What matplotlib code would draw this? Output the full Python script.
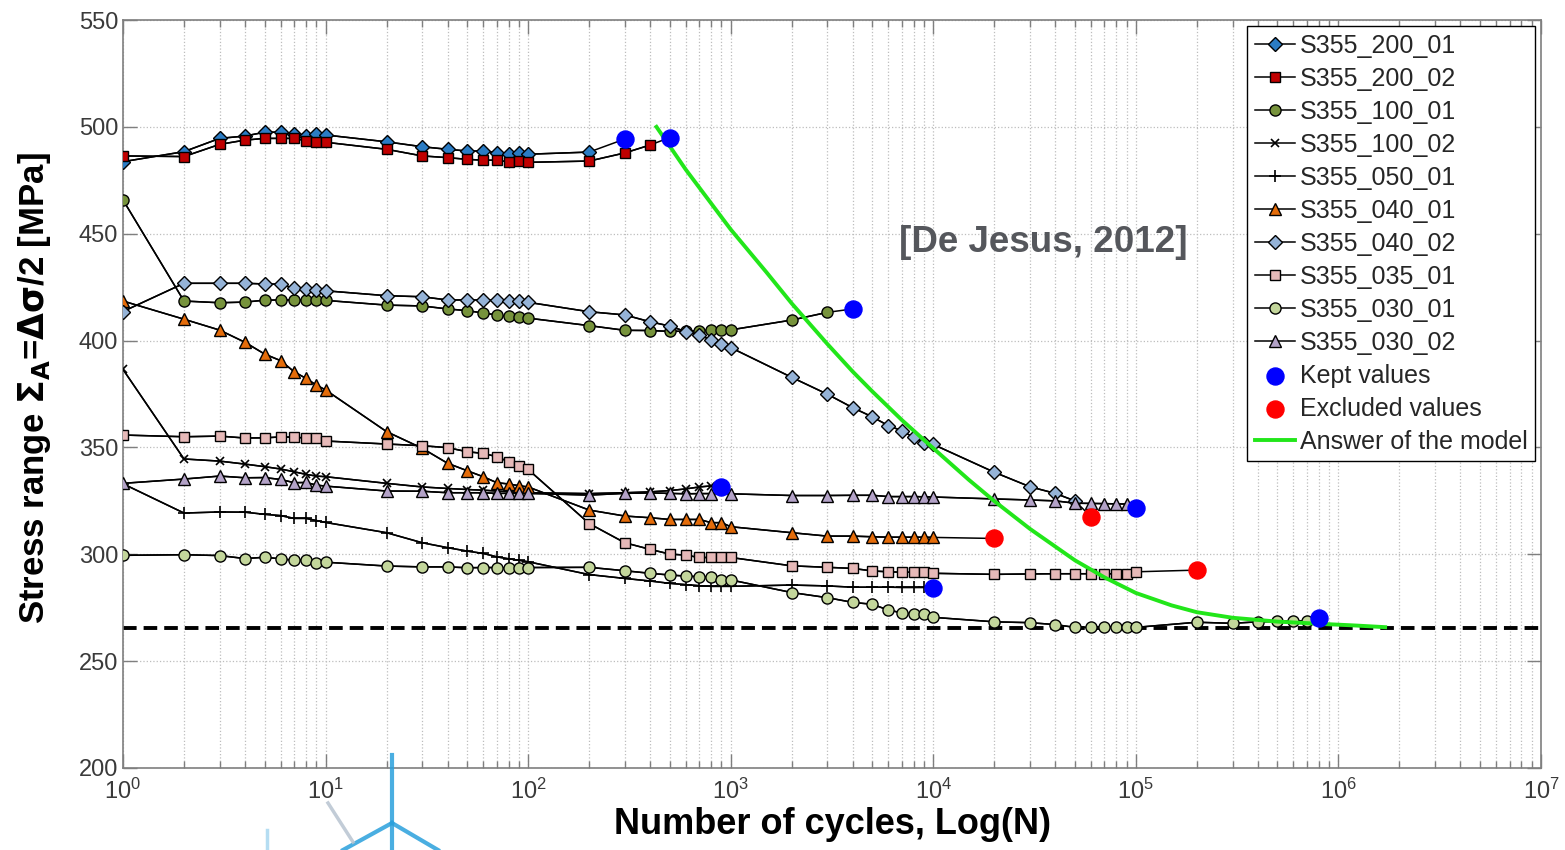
import math
import matplotlib
matplotlib.use('Agg')
import matplotlib.pyplot as plt
from matplotlib.lines import Line2D
from matplotlib.ticker import FixedLocator, LogLocator, NullFormatter, FuncFormatter

plt.rcParams['font.family'] = ['Liberation Sans', 'DejaVu Sans']

# cycles used by most tests in the first decades
n_first = [1, 2, 3, 4, 5, 6, 7, 8, 9, 10, 20, 30, 40, 50, 60, 70, 80, 90, 100]
n_mid = [200, 300, 400, 500, 600, 700, 800, 900, 1000]
n_high = [2000, 3000, 4000, 5000, 6000, 7000, 8000, 9000, 10000]

# S355_200_01
n_200_01 = n_first + [200]
y_200_01 = [483.7, 488.4, 494.6, 495.7, 497.5, 497.5, 496.7, 495.9, 496.5, 496.2,
            493.0, 490.7, 489.5, 488.7, 488.7, 487.9, 487.4, 487.6, 487.2, 488.2]
# S355_200_02
n_200_02 = n_first + [200, 300, 400]
y_200_02 = [486.4, 486.1, 491.8, 493.8, 494.6, 494.6, 494.6, 493.5, 493.0, 492.8,
            489.5, 486.4, 485.6, 484.8, 484.4, 484.4, 483.6, 483.8, 483.4, 484.0, 487.8, 491.5]
# S355_100_01
n_100_01 = n_first + n_mid + [2000, 3000]
y_100_01 = [465.8, 418.5, 417.7, 418.0, 418.9, 419.0, 419.0, 419.0, 418.8, 418.8,
            416.6, 416.2, 414.8, 414.0, 412.9, 412.0, 411.3, 410.9, 410.5,
            407.0, 404.8, 404.7, 404.3, 404.4, 404.6, 404.9, 405.0, 405.0, 409.6, 413.2]
# S355_100_02
n_100_02 = n_first + [200, 300, 400, 500, 600, 700, 800]
y_100_02 = [386.5, 344.6, 343.6, 342.2, 341.0, 339.9, 338.6, 337.4, 336.6, 336.3,
            333.2, 331.5, 330.8, 330.3, 330.0, 329.6, 329.3, 329.0, 328.8,
            328.4, 328.8, 329.2, 329.8, 330.6, 331.5, 332.0]
# S355_050_01
n_050_01 = n_first + n_mid + n_high[:-1]
y_050_01 = [333.0, 319.3, 319.8, 319.7, 318.7, 318.1, 316.8, 316.8, 315.8, 314.9,
            310.1, 305.4, 303.1, 301.5, 300.4, 298.8, 297.9, 297.2, 296.5,
            290.5, 288.7, 287.5, 286.4, 285.8, 285.3, 285.0, 285.0, 285.0,
            285.6, 285.2, 284.6, 284.6, 284.6, 284.5, 284.5, 284.5]
# S355_040_01
n_040_01 = n_first + n_mid + n_high
y_040_01 = [418.5, 410.0, 404.9, 399.2, 393.7, 390.6, 385.4, 382.3, 379.2, 376.9,
            357.4, 349.6, 342.6, 339.1, 336.3, 333.5, 332.9, 332.1, 331.5,
            320.7, 317.9, 317.1, 316.3, 316.3, 316.3, 314.8, 314.8, 312.9,
            310.1, 308.5, 308.5, 308.2, 308.0, 308.0, 308.0, 308.0, 307.9]
# S355_040_02
n_040_02 = n_first + n_mid + n_high + [20000, 30000, 40000, 50000]
y_040_02 = [413.6, 426.8, 426.8, 426.8, 426.5, 426.4, 424.4, 424.2, 423.8, 423.3,
            421.0, 420.5, 419.0, 419.0, 419.0, 418.8, 418.6, 418.4, 417.9,
            413.5, 412.0, 408.8, 406.8, 404.2, 402.6, 400.3, 398.4, 396.7,
            382.8, 374.9, 368.6, 364.3, 360.2, 357.8, 354.7, 351.9, 351.4,
            338.4, 331.6, 328.5, 325.0]
# S355_035_01
n_035_01 = n_first + n_mid + n_high + [20000, 30000, 40000, 50000, 60000, 70000, 80000, 90000, 100000]
y_035_01 = [355.8, 355.0, 355.3, 354.4, 354.5, 354.9, 354.8, 354.4, 354.4, 353.0,
            351.6, 350.8, 349.9, 348.0, 347.2, 345.7, 343.3, 341.5, 339.7,
            314.4, 305.4, 302.3, 300.1, 299.6, 298.5, 298.5, 298.5, 298.5,
            294.6, 293.9, 293.4, 292.2, 291.8, 291.6, 291.6, 291.6, 291.1,
            290.6, 290.8, 290.9, 290.9, 290.9, 290.9, 290.9, 290.9, 291.8]
# S355_030_01
n_030_01 = n_first + n_mid + n_high + [20000, 30000, 40000, 50000, 60000, 70000, 80000, 90000, 100000,
                                       200000, 300000, 400000, 500000, 600000, 700000]
y_030_01 = [299.5, 299.8, 299.4, 298.0, 298.6, 297.9, 297.2, 297.2, 296.0, 296.3,
            294.5, 294.1, 294.1, 293.7, 293.8, 293.8, 293.6, 293.4, 293.8,
            293.9, 292.3, 291.1, 290.3, 289.8, 289.5, 289.5, 288.0, 288.0,
            282.1, 279.7, 277.5, 276.6, 273.9, 272.6, 272.0, 272.0, 270.5,
            268.4, 268.0, 267.1, 265.8, 265.8, 266.2, 266.0, 266.0, 265.8,
            268.2, 267.7, 268.4, 268.6, 268.8, 268.9]
# S355_030_02
n_030_02 = n_first + [200, 300, 400, 500, 600, 700, 800, 1000] + n_high + \
           [20000, 30000, 40000, 50000, 60000, 70000, 80000, 90000]
y_030_02 = [333.2, 335.2, 336.6, 335.8, 335.9, 335.0, 333.5, 333.6, 332.4, 331.9,
            329.6, 329.5, 328.8, 328.8, 328.8, 328.5, 328.5, 328.5, 328.5,
            327.7, 328.5, 328.7, 328.5, 328.3, 328.4, 328.4, 328.3,
            327.5, 327.5, 327.6, 327.6, 327.0, 327.0, 327.0, 326.9, 326.8,
            325.9, 325.4, 325.0, 323.9, 323.8, 323.7, 323.6, 323.5]

# last point of each test: kept or excluded
kept_n = [300, 500, 4000, 900, 10000, 100000, 800000]
kept_y = [494.3, 495.0, 414.8, 331.6, 284.1, 321.5, 270.0]
excl_n = [20000, 60000, 200000]
excl_y = [307.4, 317.6, 292.6]

# answer of the model
model_n = [430, 600, 1000, 1500, 2000, 3000, 4000, 5000, 7000, 10000, 15000, 20000, 30000,
           50000, 70000, 100000, 150000, 200000, 300000, 500000, 800000, 1200000, 1700000]
model_y = [500.0, 480.0, 452.0, 432.0, 417.4, 398.4, 385.5, 376.2, 362.8, 349.6, 334.8,
           324.9, 311.9, 297.2, 289.2, 281.9, 276.1, 272.9, 270.3, 268.5, 267.5, 266.7, 265.9]

endurance = 265.5

series = [
    ('S355_200_01', n_200_01, y_200_01, 300, 494.3, 'D', '#2b7cc4', 7),
    ('S355_200_02', n_200_02, y_200_02, 500, 495.0, 's', '#c00000', 7.5),
    ('S355_100_01', n_100_01, y_100_01, 4000, 414.8, 'o', '#77933c', 8),
    ('S355_100_02', n_100_02, y_100_02, 900, 331.6, 'x', 'k', 6),
    ('S355_050_01', n_050_01, y_050_01, 10000, 284.1, '+', 'k', 9),
    ('S355_040_01', n_040_01, y_040_01, 20000, 307.4, '^', '#e46c0a', 8),
    ('S355_040_02', n_040_02, y_040_02, 60000, 317.6, 'D', '#95b3d7', 7),
    ('S355_035_01', n_035_01, y_035_01, 200000, 292.6, 's', '#e6b9b8', 7.5),
    ('S355_030_01', n_030_01, y_030_01, 800000, 270.0, 'o', '#c3d69b', 8),
    ('S355_030_02', n_030_02, y_030_02, 100000, 321.5, '^', '#b3a2c7', 8),
]

fig = plt.figure(figsize=(15.65, 8.5), dpi=100)
ax = fig.add_axes([123 / 1565, 1 - 768 / 850, 1418 / 1565, 748 / 850])

ax.axhline(endurance, color='k', lw=2.8, ls=(0, (3.5, 1.8)), zorder=2)

handles = []
for name, n, y, n_end, y_end, mk, col, ms in series:
    ax.plot(n + [n_end], y + [y_end], color='k', lw=1.1, zorder=3)
    h, = ax.plot(n, y, color='k', lw=1.1, marker=mk, ms=ms, mfc=col, mec='k',
                 mew=1.0 if mk not in ('x', '+') else 1.2, zorder=4, label=name)
    handles.append(h)

hk = ax.scatter(kept_n, kept_y, s=150, color='#0000ff', zorder=6, label='Kept values')
he = ax.scatter(excl_n, excl_y, s=150, color='#ff0000', zorder=6, label='Excluded values')
hm, = ax.plot(model_n, model_y, color='#22e61a', lw=2.8, zorder=5, label='Answer of the model')

ax.set_xscale('log')
ax.set_xlim(1, 1e7)
ax.set_ylim(200, 550)
ax.yaxis.set_major_locator(FixedLocator(list(range(200, 551, 50))))
ax.xaxis.set_major_locator(LogLocator(base=10, numticks=10))
ax.xaxis.set_minor_locator(LogLocator(base=10, subs=range(2, 10), numticks=100))
ax.xaxis.set_minor_formatter(NullFormatter())
ax.xaxis.set_major_formatter(FuncFormatter(lambda v, p: r'$\mathregular{10^{%d}}$' % round(math.log10(v))))

ax.grid(True, which='major', ls=':', color='#bdbdbd', lw=0.9)
ax.grid(True, which='minor', axis='x', ls=':', color='#bdbdbd', lw=0.9)
ax.set_axisbelow(True)
for sp in ax.spines.values():
    sp.set_color('#7f7f7f')
    sp.set_linewidth(1.2)
ax.tick_params(which='both', direction='in', top=True, right=True, color='#7f7f7f',
               labelsize=17, labelcolor='#3a3a3a')
ax.tick_params(which='major', length=10, width=1)
ax.tick_params(which='minor', length=5, width=1)
ax.tick_params(axis='x', pad=8)

ax.set_xlabel('Number of cycles, Log(N)', fontsize=26, fontweight='bold', labelpad=2)
fig.text(0.022, 1 - 388 / 850, r'Stress range $\mathbf{\Sigma_A}$=$\mathbf{\Delta\sigma}$/2 [MPa]',
         rotation=90, ha='center', va='center', fontsize=25, fontweight='bold')

ax.text(1043 / 1565, 1 - 243 / 850, '[De Jesus, 2012]', transform=fig.transFigure,
        ha='center', va='center', fontsize=26.5, fontweight='bold', color='#55575c')

leg = ax.legend(handles=handles + [hk, he, hm], loc='upper right', fontsize=18,
                frameon=True, fancybox=False, edgecolor='k', framealpha=1,
                handlelength=1.6, handletextpad=0.2, labelspacing=0.36,
                borderpad=0.3, borderaxespad=0.25, markerscale=1.0)
leg.get_frame().set_linewidth(1.0)
for t in leg.get_texts():
    t.set_color('#262626')

# faint turbine logo at the bottom
W, H = 1565, 850
def seg(x0, y0, x1, y1, c='#2aa0dc', lw=3):
    fig.add_artist(Line2D([x0 / W, x1 / W], [1 - y0 / H, 1 - y1 / H], color=c, lw=lw,
                          alpha=0.85, transform=fig.transFigure))
seg(392, 755, 392, 850)
seg(392, 823, 343, 850)
seg(392, 823, 438, 850)
seg(328, 803, 353, 842, c='#b8c4d0', lw=2.5)
seg(267, 830, 267, 850, c='#a8d8f0', lw=2.5)

fig.savefig('out.png', dpi=100)
